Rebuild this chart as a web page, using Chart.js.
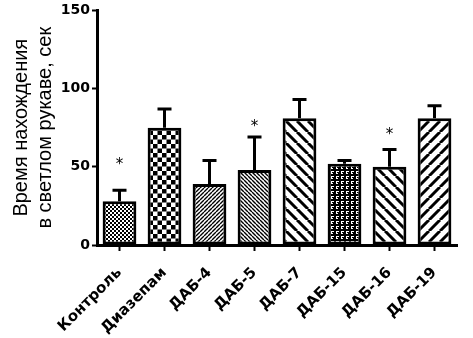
<!DOCTYPE html>
<html>
<head>
<meta charset="utf-8">
<script src="https://cdn.jsdelivr.net/npm/chart.js@4/dist/chart.umd.min.js"></script>
<style>
  html, body { margin: 0; padding: 0; background: #fff; }
  #wrap { width: 473px; height: 338px; }
</style>
</head>
<body>
<div id="wrap"><canvas id="chart" width="473" height="338"></canvas></div>
<script>
/* data */
const labels = ["Контроль", "Диазепам", "ДАБ-4", "ДАБ-5", "ДАБ-7", "ДАБ-15", "ДАБ-16", "ДАБ-19"];
const means = [28, 75, 39, 48, 81, 52, 50, 81];
const errTop = [35, 87, 54, 69, 93, 54, 61, 89];
const starAt = [53, null, null, 77, null, null, 72, null];
const fills = ["checkFine", "checkBig", "diagFineR", "diagFineL", "diagWideL", "brick", "diagWideL", "diagWideR"];

/* build canvas patterns for the bar fills */
function makePattern(kind) {
    const c = document.createElement("canvas");
    const g = c.getContext("2d");
    let s = 4;
    if (kind === "checkBig") s = 9;
    if (kind === "brick") s = 5;
    if (kind === "diagWideL" || kind === "diagWideR") s = 11;
    c.width = s; c.height = s;
    g.fillStyle = "#fff";
    g.fillRect(0, 0, s, s);
    g.fillStyle = "#000";
    g.strokeStyle = "#000";
    if (kind === "checkFine" || kind === "checkBig") {
        const h = s / 2;
        g.fillRect(0, 0, h, h);
        g.fillRect(h, h, h, h);
    } else if (kind === "brick") {
        g.fillRect(0, 0, s, s);
        g.fillStyle = "#fff";
        g.fillRect(1, 1, 3, 1);
        g.fillRect(1, 2, 1, 2);
        g.fillRect(2, 3, 1, 1);
    } else {
        g.lineWidth = (kind === "diagFineR" || kind === "diagFineL") ? 1.4 : 3;
        g.beginPath();
        for (const k of [-s, 0, s]) {
            if (kind === "diagFineR" || kind === "diagWideR") {
                g.moveTo(k, s); g.lineTo(k + s, 0);
            } else {
                g.moveTo(k, 0); g.lineTo(k + s, s);
            }
        }
        g.stroke();
    }
    return g.createPattern(c, "repeat");
}

/* error bars (upper only) and significance stars */
const extras = {
    id: "extras",
    afterDatasetsDraw(chart) {
        const ctx = chart.ctx;
        const y = chart.scales.y;
        const meta = chart.getDatasetMeta(0);
        ctx.save();
        ctx.strokeStyle = "#000";
        ctx.lineWidth = 3;
        meta.data.forEach((bar, i) => {
            const x = bar.x;
            const y0 = y.getPixelForValue(means[i]);
            const y1 = y.getPixelForValue(errTop[i]);
            ctx.beginPath();
            ctx.moveTo(x, y0);
            ctx.lineTo(x, y1);
            ctx.moveTo(x - 7, y1);
            ctx.lineTo(x + 7, y1);
            ctx.stroke();
            if (starAt[i] !== null) {
                ctx.fillStyle = "#000";
                ctx.font = "15px 'DejaVu Sans'";
                ctx.textAlign = "center";
                ctx.textBaseline = "middle";
                ctx.fillText("*", x, y.getPixelForValue(starAt[i]) + 3);
            }
        });
        ctx.restore();
    }
};

const ctx = document.getElementById("chart");

new Chart(ctx, {
    type: "bar",
    data: {
        labels: labels,
        datasets: [{
            data: means,
            backgroundColor: fills.map(makePattern),
            borderColor: "#000",
            borderWidth: 3,
            borderSkipped: false,
            barPercentage: 0.75,
            categoryPercentage: 1,
        }],
    },
    options: {
        responsive: false,
        animation: false,
        layout: { padding: { left: 0, right: 16, top: 10, bottom: 0 } },
        plugins: {
            legend: { display: false },
            tooltip: { enabled: false },
        },
        scales: {
            x: {
                grid: { display: true, drawOnChartArea: false, offset: false, tickLength: 6, tickWidth: 2, tickColor: "#000" },
                border: { display: true, color: "#000", width: 3 },
                ticks: {
                    color: "#000",
                    font: { family: "'DejaVu Sans'", size: 15, weight: "bold" },
                    minRotation: 45,
                    maxRotation: 45,
                    padding: 13,
                },
                afterFit: (scale) => { scale.height = 93; },
            },
            y: {
                min: 0,
                max: 150,
                grid: { display: true, drawOnChartArea: false, tickLength: 5, tickWidth: 2, tickColor: "#000" },
                border: { display: true, color: "#000", width: 3 },
                ticks: {
                    stepSize: 50,
                    color: "#000",
                    font: { family: "'DejaVu Sans'", size: 14, weight: "bold" },
                    padding: 2,
                },
                title: {
                    display: true,
                    text: ["Время нахождения", "в светлом рукаве, сек"],
                    color: "#000",
                    font: { family: "'Liberation Sans'", size: 20 },
                    padding: { top: 9, bottom: 2 },
                },
                afterFit: (scale) => { scale.width = 97; },
            },
        },
    },
    plugins: [extras],
});
</script>
</body>
</html>
